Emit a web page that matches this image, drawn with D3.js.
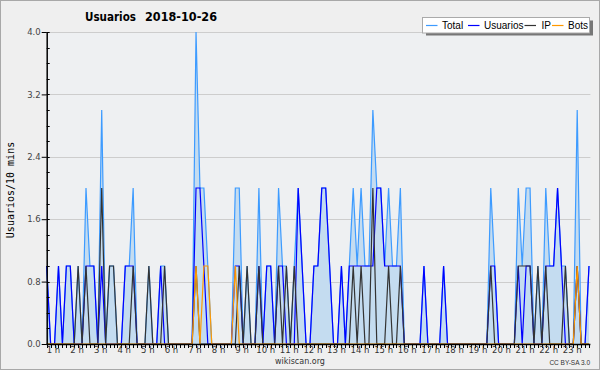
<!DOCTYPE html>
<html><head><meta charset="utf-8">
<script src="https://cdn.jsdelivr.net/npm/d3@7"></script>
<style>body{margin:0;background:#fff}svg{display:block}</style>
</head><body>
<svg id="c" width="600" height="370"></svg>
<script>
// 10-minute slots (index 0..138)
const usuarios = [
 1,0,0,1,0,1,1,0,0,0,
 1,1,1,0,1,0,0,0,0,0,
 1,1,1,0,0,0,0,0,0,1,
 0,0,0,0,0,0,0,0,2,2,
 1,0,0,0,0,0,0,0,1,1,
 0,0,0,0,1,0,1,1,0,1,
 1,0,0,0,2,1,0,0,1,1,
 2,2,1,0,0,1,0,1,1,1,
 1,1,1,1,2,2,1,1,1,1,
 1,0,0,0,0,0,1,0,0,0,
 0,1,0,0,0,0,0,0,0,0,
 0,0,0,1,1,0,0,0,0,0,
 1,0,1,1,0,0,0,1,1,1,
 2,1,0,0,0,1,0,0,1];
const ip = [
 0,0,0,0,0,0,0,0,1,0,
 1,0,0,0,2,0,1,1,0,0,
 0,0,1,0,0,0,1,0,0,0,
 1,0,0,0,0,0,0,0,1,0,
 0,0,0,0,0,0,0,0,0,1,
 0,1,0,0,1,0,0,0,0,1,
 0,1,0,1,0,0,0,0,0,0,
 0,0,0,0,0,0,0,0,1,0,
 1,0,0,2,0,0,0,1,0,0,
 1,0,0,0,0,0,0,0,0,0,
 0,0,0,0,0,0,0,0,0,0,
 0,0,0,1,0,0,0,0,0,0,
 1,1,1,1,0,1,0,1,0,0,
 0,0,1,0,0,1,0,0,0];
const bots = [
 0,0,0,0,0,0,0,0,0,0,
 0,0,0,0,0,0,0,0,0,0,
 0,0,0,0,0,0,0,0,0,0,
 0,0,0,0,0,0,0,0,1,0,
 1,1,0,0,0,0,0,0,1,0,
 0,0,0,0,0,0,0,0,0,0,
 0,0,0,0,0,0,0,0,0,0,
 0,0,0,0,0,0,0,0,0,0,
 0,0,0,0,0,0,0,0,0,0,
 0,0,0,0,0,0,0,0,0,0,
 0,0,0,0,0,0,0,0,0,0,
 0,0,0,0,0,0,0,0,0,0,
 0,0,0,0,0,0,0,0,0,0,
 0,0,0,0,0,1,0,0,0];
const total = usuarios.map((u,i)=>u+ip[i]+bots[i]);
const hourLabels = ["1 h","2 h","3 h","4 h","5 h","6 h","7 h","8 h","9 h","10 h","11 h","12 h","13 h","14 h","15 h","16 h","17 h","18 h","19 h","20 h","21 h","22 h","23 h"];
const yTicks = [0,0.8,1.6,2.4,3.2,4.0];
const seriesNames = ["Total","Usuarios","IP","Bots"];
const seriesColors = ["#3d9bff","#0000ff","#333333","#ff9900"];

const svg = d3.select("#c");
const W=600,H=370;
svg.append("rect").attr("x",0).attr("y",0).attr("width",W).attr("height",H).attr("fill","#efefef");
svg.append("rect").attr("x",0.5).attr("y",0.5).attr("width",W-1).attr("height",H-1).attr("fill","none").attr("stroke","#a8a8a8");

const L=46.7,R=589.0,T=32,B=344;
const x = d3.scaleLinear().domain([0,usuarios.length-1]).range([L,R]);
const y = d3.scaleLinear().domain([0,4]).range([B,T]);

svg.append("rect").attr("x",L).attr("y",T).attr("width",590.4-L).attr("height",B-T).attr("fill","#eef0f2");

// grid
svg.append("g").selectAll("line").data(yTicks.slice(1)).join("line")
  .attr("x1",L).attr("x2",590.4).attr("y1",d=>Math.round(y(d))+0.5).attr("y2",d=>Math.round(y(d))+0.5)
  .attr("stroke","#cdcdcd").attr("stroke-width",1);

// area + lines
const idx = d3.range(usuarios.length);
svg.append("path").datum(idx)
  .attr("d",d3.area().x(i=>x(i)).y0(y(0)).y1(i=>y(total[i])))
  .attr("fill","#c4dcf0");
const line = arr => d3.line().x(i=>x(i)).y(i=>y(arr[i]))(idx);
[total,usuarios,ip,bots].forEach((arr,k)=>{
  svg.append("path").attr("d",line(arr)).attr("fill","none")
    .attr("stroke",seriesColors[k]).attr("stroke-width",1.2);
});

// y axis
const yAxis = d3.axisLeft(y).tickValues(yTicks).tickFormat(d3.format(".1f")).tickSize(5).tickPadding(1);
const gy = svg.append("g").attr("transform",`translate(${L},0)`).call(yAxis);
gy.select(".domain").remove();
gy.selectAll("text").attr("font-family","DejaVu Sans").attr("font-size",8.5).attr("fill","#444");
gy.selectAll("line").attr("stroke","#000");
svg.append("g").selectAll("line").data(d3.range(0,4.01,0.2)).join("line")
  .attr("x1",L).attr("x2",L+3).attr("y1",d=>Math.round(y(d))+0.5).attr("y2",d=>Math.round(y(d))+0.5).attr("stroke","#000");
svg.append("line").attr("x1",L+0.5).attr("x2",L+0.5).attr("y1",T).attr("y2",B+1).attr("stroke","#000").attr("stroke-width",1.5);

// x axis
svg.append("line").attr("x1",L).attr("x2",590.4).attr("y1",B+0.5).attr("y2",B+0.5).attr("stroke","#000").attr("stroke-width",1.5);
svg.append("g").selectAll("line").data(idx).join("line")
  .attr("x1",i=>Math.round(x(i))+0.5).attr("x2",i=>Math.round(x(i))+0.5).attr("y1",B).attr("y2",B+4).attr("stroke","#000");
svg.append("g").selectAll("text").data(hourLabels).join("text")
  .attr("x",(d,k)=>x(6*k+1.73)).attr("y",B+8.5).attr("text-anchor","middle")
  .attr("font-family","DejaVu Sans").attr("font-size",8.5).attr("fill","#333").text(d=>d);

// y title
svg.append("text").attr("transform",`translate(14,190) rotate(-90)`).attr("text-anchor","middle")
  .attr("font-family","DejaVu Sans Mono").attr("font-size",10).attr("fill","#000").text("Usuarios/10 mins");

// title
svg.append("text").attr("x",85).attr("y",21)
  .attr("font-family","DejaVu Sans").attr("font-weight","bold").attr("font-size",11.5).attr("fill","#000")
  .attr("textLength",51).attr("lengthAdjust","spacingAndGlyphs").text("Usuarios");
svg.append("text").attr("x",145).attr("y",21)
  .attr("font-family","DejaVu Sans").attr("font-weight","bold").attr("font-size",11.5).attr("fill","#000")
  .attr("textLength",72).attr("lengthAdjust","spacingAndGlyphs").text("2018-10-26");

// legend
const lg = svg.append("g");
lg.append("rect").attr("x",426).attr("y",20.5).attr("width",167).attr("height",15).attr("fill","#777");
lg.append("rect").attr("x",422.5).attr("y",17.5).attr("width",167).attr("height",15.5).attr("fill","#fff").attr("stroke","#aaa");
const items=[{lx:426,tx:442},{lx:468,tx:484},{lx:524.5,tx:541.5},{lx:552,tx:568}];
seriesNames.forEach((n,k)=>{
  const it=items[k];
  lg.append("line").attr("x1",it.lx).attr("x2",it.lx+11.5).attr("y1",25.5).attr("y2",25.5).attr("stroke",seriesColors[k]).attr("stroke-width",1.2);
  lg.append("text").attr("x",it.tx).attr("y",29).attr("font-family","Liberation Sans").attr("font-size",10).attr("fill","#000").text(n);
});

// footer
svg.append("text").attr("x",300).attr("y",364).attr("text-anchor","middle").attr("font-family","DejaVu Sans").attr("font-size",8).attr("fill","#333").text("wikiscan.org");
svg.append("text").attr("x",590).attr("y",365).attr("text-anchor","end").attr("font-family","Liberation Sans").attr("font-size",6.5).attr("fill","#333").text("CC BY-SA 3.0");
</script>
</body></html>
